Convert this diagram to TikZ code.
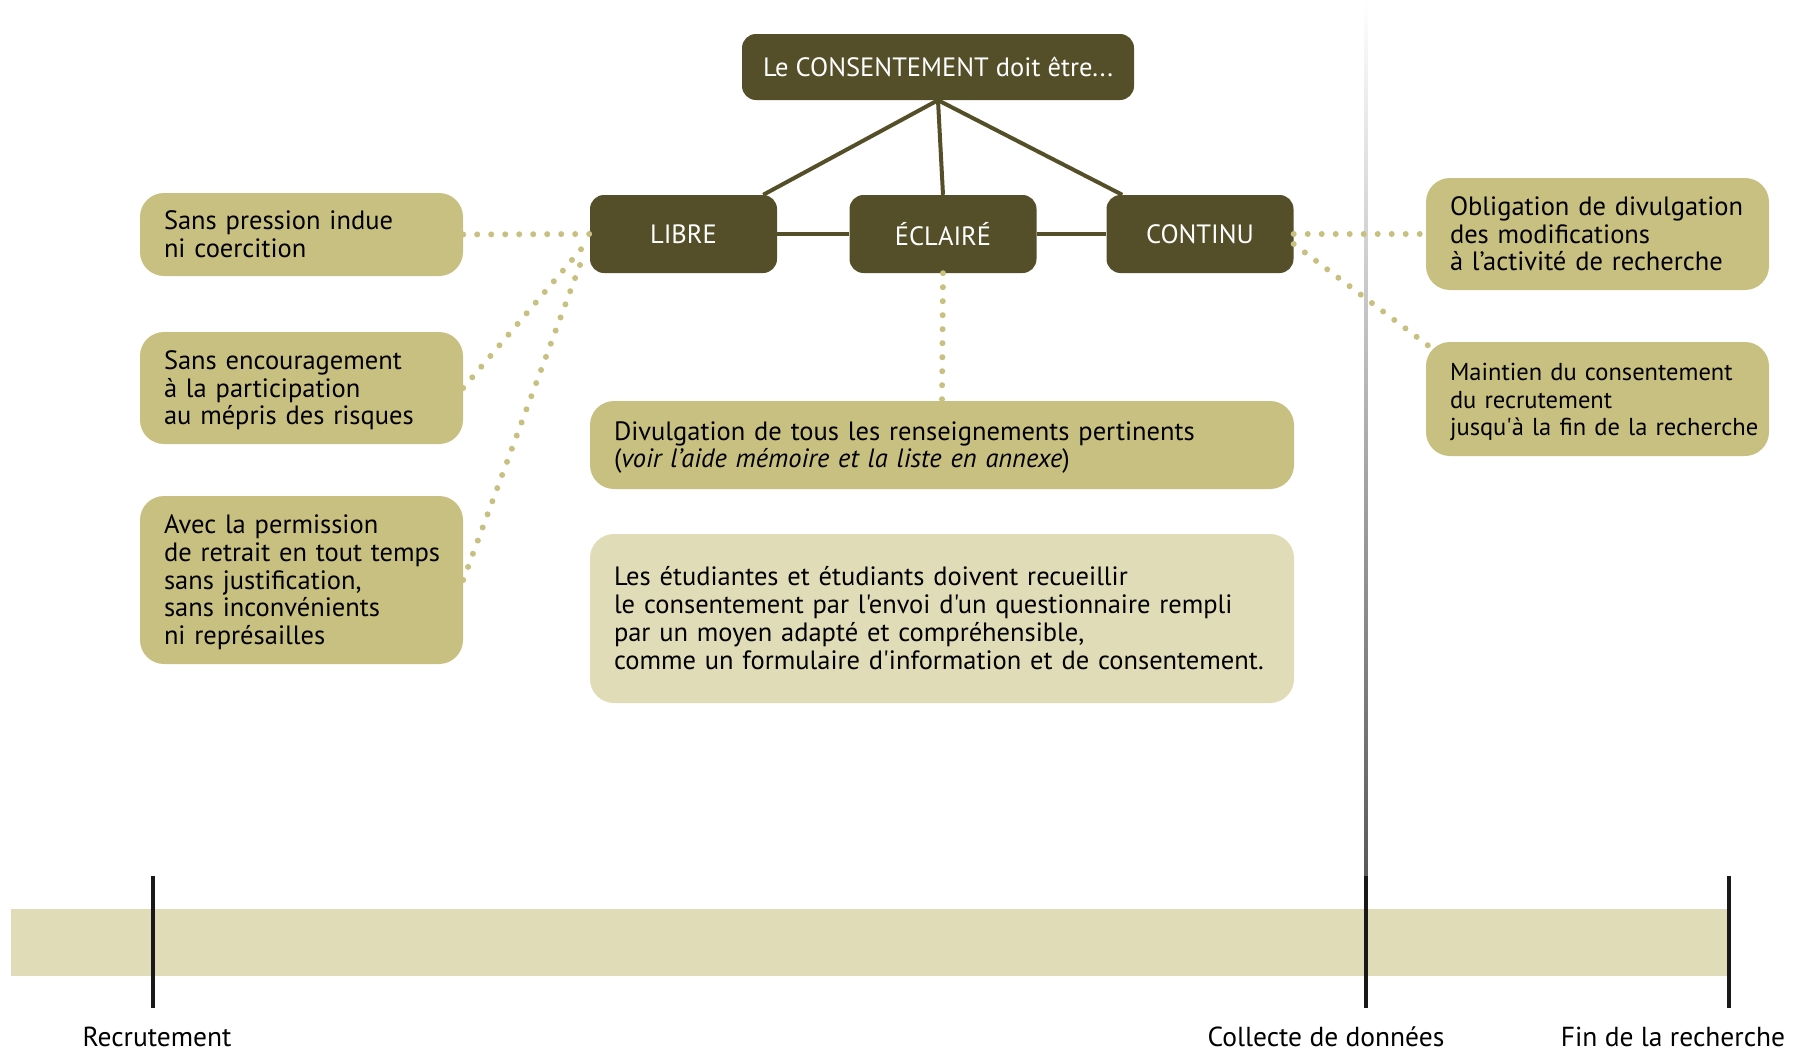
\documentclass[tikz,border=0pt]{standalone}
\usepackage{fontspec}
\setmainfont{PT Sans}[Ligatures=TeXOff]
\usetikzlibrary{calc}
\definecolor{darkol}{HTML}{544F28}
\definecolor{midol}{HTML}{C8C080}
\definecolor{lightol}{HTML}{E0DCB7}
\newcommand\linesof[1]{\raisebox{-3.5pt}[\height][\depth]{\begin{tabular}{@{}l@{}}#1\end{tabular}}}
\begin{document}
\begin{tikzpicture}[x=1pt,y=-1pt,
  txt/.style={font=\fontsize{26.5}{27.8}\selectfont},
  dbox/.style={txt, fill=darkol, text=white, rounded corners=14pt, minimum height=78pt, minimum width=187pt, inner sep=0pt},
  mbox/.style={txt, fill=midol, text=black, rounded corners=24pt, align=left, inner xsep=24pt, inner ysep=0pt},
  lbox/.style={txt, fill=lightol, text=black, rounded corners=24pt, align=left, inner xsep=24pt, inner ysep=0pt},
  link/.style={draw=darkol, line width=4pt},
  dots/.style={draw=midol, line width=6pt, line cap=round, dash pattern=on 0pt off 14pt},
  tick/.style={draw=black!90, line width=3.5pt},
  lab/.style={font=\fontsize{27.5}{30}\selectfont}]
\useasboundingbox (0,0) rectangle (1800,1052);

% timeline bar
\fill[lightol] (11,909) rectangle (1728,976);
\shade[top color=white, bottom color=black!65] (1364.5,0) rectangle (1367.5,876);
\draw[tick] (153,876) -- (153,1008);
\draw[tick] (1366,876) -- (1366,1008);
\draw[tick] (1729,876) -- (1729,1008);
\node[lab] (rec) at (157,1037) {Recrutement};
\node[lab] (col) at (1326,1037) {Collecte de données};
\node[lab] (fin) at (1673,1037) {Fin de la recherche};

% main nodes
\node[dbox, minimum width=392pt, minimum height=66pt] (top) at (938,67) {Le CONSENTEMENT doit être...};
\node[dbox] (libre) at (683.5,234) {LIBRE};
\node[dbox] (ecl) at (943,234) {ÉCLAIRÉ};
\node[dbox] (cont) at (1200,234) {CONTINU};

% left boxes
\node[mbox, text width=275pt, minimum height=83pt] (l1) at (301.5,234.5) {\linesof{Sans pression indue\\ni coercition}};
\node[mbox, text width=275pt, minimum height=112pt] (l2) at (301.5,388) {\linesof{Sans encouragement\\à la participation\\au mépris des risques}};
\node[mbox, text width=275pt, minimum height=168pt] (l3) at (301.5,580) {\linesof{Avec la permission\\de retrait en tout temps\\sans justification,\\sans inconvénients\\ni représailles}};

% right boxes
\node[mbox, text width=295pt, minimum height=112pt] (r1) at (1597.5,234) {\linesof{Obligation de divulgation\\des modifications\\à l’activité de recherche}};
\node[mbox, text width=295pt, minimum height=114pt, font=\fontsize{24.5}{27.8}\selectfont] (r2) at (1597.5,399) {\linesof{Maintien du consentement\\du recrutement\\jusqu'à la fin de la recherche}};

% middle boxes
\node[mbox, text width=656pt, minimum height=88pt] (m1) at (942,445) {\linesof{Divulgation de tous les renseignements pertinents\\(\textit{voir l’aide mémoire et la liste en annexe})}};
\node[lbox, text width=656pt, minimum height=169pt] (m2) at (942,618.5) {\linesof{Les étudiantes et étudiants doivent recueillir\\le consentement par l'envoi d'un questionnaire rempli\\par un moyen adapté et compréhensible,\\comme un formulaire d'information et de consentement.}};

% solid links
\draw[link] (top.south) -- ([xshift=-14pt]libre.north east);
\draw[link] (top.south) -- (ecl.north);
\draw[link] (top.south) -- ([xshift=16pt]cont.north west);
\draw[link] (libre.east) -- (ecl.west);
\draw[link] (ecl.east) -- (cont.west);

% dotted links
\draw[dots] (l1.east) -- (libre.west);
\draw[dots] (l2.east) -- ([shift={(-6pt,-12pt)}]libre.west);
\draw[dots] (l3.east) -- ([shift={(-5pt,-18pt)}]libre.west);
\draw[dots] (ecl.south) -- (m1.north);
\draw[dots] (cont.east) -- (r1.west);
\draw[dots] ([yshift=-10pt]cont.east) -- ([shift={(8pt,-8pt)}]r2.north west);
\end{tikzpicture}
\end{document}
